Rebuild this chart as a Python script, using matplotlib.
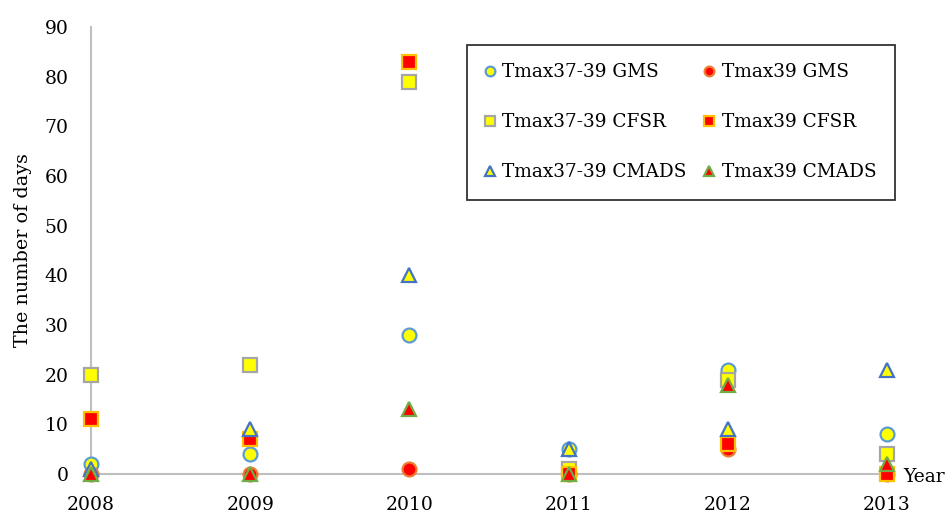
import matplotlib
matplotlib.use("Agg")
import matplotlib.pyplot as plt

years = [2008, 2009, 2010, 2011, 2012, 2013]
gms_37_39 = [2, 4, 28, 5, 21, 8]
gms_39 = [0, 0, 1, 0, 5, 0]
cfsr_37_39 = [20, 22, 79, 1, 19, 4]
cfsr_39 = [11, 7, 83, 0, 6, 0]
cmads_37_39 = [1, 9, 40, 5, 9, 21]
cmads_39 = [0, 0, 13, 0, 18, 2]

plt.rcParams['font.family'] = ['DejaVu Serif']

fig = plt.figure(figsize=(9.47, 5.16), dpi=100)
ax = fig.add_axes([91 / 947, 1 - 474 / 516, 796 / 947, 447 / 516])

ms = 10
styles = [
    ("Tmax37-39 GMS", gms_37_39, 'o', '#FFFF00', '#5B9BD5'),
    ("Tmax39 GMS", gms_39, 'o', '#FF0000', '#ED7D31'),
    ("Tmax37-39 CFSR", cfsr_37_39, 's', '#FFFF00', '#A5A5A5'),
    ("Tmax39 CFSR", cfsr_39, 's', '#FF0000', '#FFC000'),
    ("Tmax37-39 CMADS", cmads_37_39, '^', '#FFFF00', '#4472C4'),
    ("Tmax39 CMADS", cmads_39, '^', '#FF0000', '#70AD47'),
]
handles = {}
for i, (lab, vals, mk, fc, ec) in enumerate(styles):
    h, = ax.plot(years, vals, linestyle='none', marker=mk, markersize=ms,
                 markerfacecolor=fc, markeredgecolor=ec, markeredgewidth=1.6,
                 label=lab, clip_on=False, zorder=3 + i)
    handles[lab] = h

ax.set_xlim(2008, 2013)
ax.set_ylim(0, 90)
ax.set_yticks(range(0, 91, 10))
ax.set_xticks(years)
ax.set_xticklabels([str(y) for y in years])
ax.tick_params(axis='both', length=0, labelsize=13.5)
ax.tick_params(axis='y', pad=16)
ax.tick_params(axis='x', pad=16)
for s in ['top', 'right']:
    ax.spines[s].set_visible(False)
for s in ['left', 'bottom']:
    ax.spines[s].set_color('#BFBFBF')
    ax.spines[s].set_linewidth(1.5)
    ax.spines[s].set_zorder(1)

ax.set_ylabel("The number of days", fontsize=13.8, labelpad=9)
ax.text(1.020, -0.007, "Year", transform=ax.transAxes, fontsize=13.5,
        va='center', ha='left')

order = ["Tmax37-39 GMS", "Tmax37-39 CFSR", "Tmax37-39 CMADS",
         "Tmax39 GMS", "Tmax39 CFSR", "Tmax39 CMADS"]
leg = ax.legend([handles[k] for k in order], order, ncol=2, loc='upper left',
                bbox_to_anchor=(0.4724, 0.9597), fontsize=13.3, frameon=True,
                fancybox=False, edgecolor='black', markerscale=0.7,
                handlelength=0.45, handletextpad=0.45, columnspacing=1.0,
                labelspacing=1.72, borderpad=1.0, borderaxespad=0)
leg.get_frame().set_linewidth(1.3)

fig.savefig("out.png", dpi=100)
